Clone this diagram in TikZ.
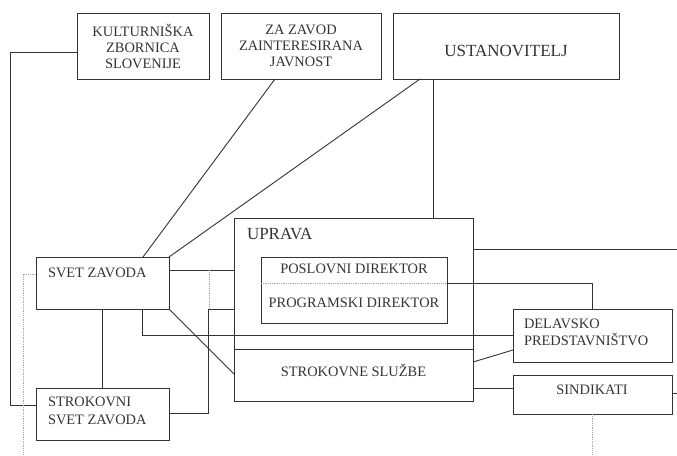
\documentclass[tikz,border=0pt]{standalone}
\usepackage{fontspec}
\setmainfont{Liberation Serif}

\tikzset{
	box/.style={draw, rectangle, inner sep=0pt, outer sep=0pt, align=center},
	txt/.style={inner sep=0pt, outer sep=0pt, align=left},
	faint/.style={densely dotted, black!35, line width=0.8pt}
}

\begin{document}
\begin{tikzpicture}[x=1pt, y=-1pt, line width=0.9pt, color=black!80, font=\fontsize{14.4}{16}\selectfont]
	\useasboundingbox (0,0) rectangle (677,455);
	\begin{scope}[every node/.style={box}]
	\node[minimum width=132, minimum height=66] (kzs) at (143,46) {KULTURNIŠKA\\ZBORNICA\\SLOVENIJE};
	\node[minimum width=160, minimum height=66] (javn) at (301,46) {ZA ZAVOD\\ZAINTERESIRANA\\JAVNOST};
	\node[minimum width=226, minimum height=66, font=\fontsize{17}{20}\selectfont, text height=21pt, text depth=0pt] (ust) at (506,46) {USTANOVITELJ};
	\node[minimum width=239, minimum height=183] (upr) at (353.5,309.5) {};
	\node[minimum width=186, minimum height=66] (dir) at (354,290) {};
	\node[minimum width=133, minimum height=52] (svet) at (102.5,283) {};
	\node[minimum width=133, minimum height=52] (ssz) at (102.5,414) {};
	\node[minimum width=159, minimum height=53] (dp) at (592.5,335.5) {};
	\node[minimum width=159, minimum height=39] (sind) at (592.5,394.5) {};
	\end{scope}
	\begin{scope}[every node/.style={txt}]
	\node[anchor=west, font=\fontsize{17}{20}\selectfont] (uprT) at (247,234) {UPRAVA};
	\node (dirA) at (354,269) {POSLOVNI DIREKTOR};
	\node (dirB) at (354,303) {PROGRAMSKI DIREKTOR};
	\node (sluzbe) at (353.5,370) {STROKOVNE SLUŽBE};
	\node[anchor=west] (svetT) at (48,273) {SVET ZAVODA};
	\node[anchor=west, font=\fontsize{14.4}{18}\selectfont] (sszT) at (48,411) {STROKOVNI\\SVET ZAVODA};
	\node[anchor=west, font=\fontsize{14.4}{17}\selectfont] (dpT) at (524,332.5) {DELAVSKO\\PREDSTAVNIŠTVO};
	\node (sindT) at (592,390) {SINDIKATI};
	\end{scope}
	\coordinate (rightA) at (677,249);
	\coordinate (rightB) at (677,393);
	\coordinate (bottomL) at (23,455);
	\coordinate (bottomR) at (592.5,455);
	\coordinate (dotA) at (209,270);
	\coordinate (dotB) at (209,309);
	% inner dividers
	\draw ([yshift=-39.5pt]upr.west) -- ([yshift=-39.5pt]upr.east);
	\draw [faint] ([yshift=7pt]dir.west) -- ([yshift=7pt]dir.east);
	% links
	\draw ([yshift=-6pt]kzs.west) -- ++(-67pt,0) |- ([yshift=9pt]ssz.west);
	\draw ([xshift=-26pt]javn.south) -- ([xshift=40.5pt]svet.north);
	\draw ([xshift=-86pt]ust.south) -- (svet.north east);
	\draw ([xshift=-73pt]ust.south) -- ([xshift=-73pt]ust.south |- upr.north);
	\draw ([yshift=13pt]svet.east) -- ([yshift=13pt]svet.east -| upr.west);
	\draw (svet.south) -- (ssz.north);
	\draw ([xshift=39.5pt]svet.south) |- (dp.west);
	\draw (svet.south east) -- ([yshift=-64.5pt]upr.west);
	\draw ([yshift=1pt]ssz.east) -- ++(39pt,0) |- (upr.west);
	\draw (rightA -| upr.east) -- (rightA);
	\draw ([yshift=7pt]dir.east) -| (dp.north);
	\draw ([yshift=-52.5pt]upr.east) -- ([yshift=-14.5pt]dp.west);
	\draw ([yshift=-78.5pt]upr.east) -- ([yshift=-78.5pt]upr.east -| sind.west);
	\draw (rightB -| sind.east) -- (rightB);
	\draw [faint] (sind.south) -- (bottomR);
	\draw [faint] ([yshift=9pt]svet.west) -| (bottomL);
	\draw [faint] (dotA) -- (dotB);
\end{tikzpicture}
\end{document}
